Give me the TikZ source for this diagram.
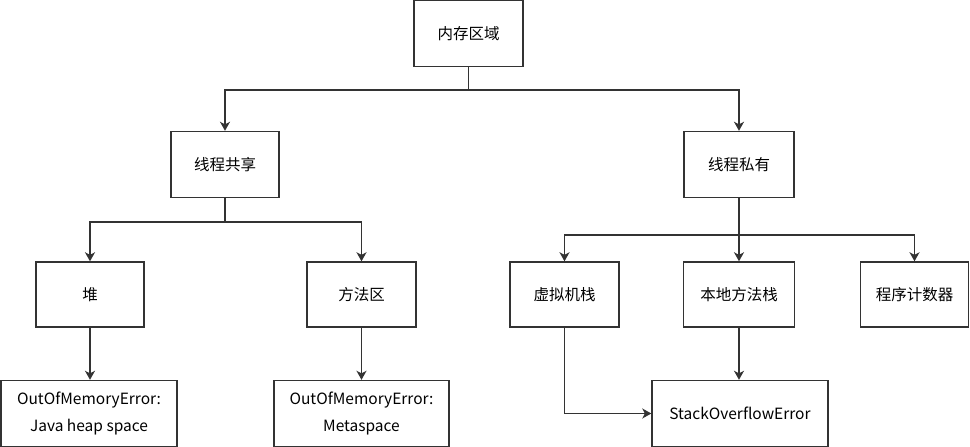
\documentclass[tikz,border=0pt]{standalone}
\usepackage{fontspec}
\newfontfamily\cjk{Noto Sans CJK SC}
\usetikzlibrary{arrows.meta}
\definecolor{linegray}{HTML}{333333}
\begin{document}
\begin{tikzpicture}[x=1pt, y=-1pt,
  box/.style={draw=linegray, line width=1.4pt, fill=white, inner sep=0pt, align=center,
    font=\cjk\fontsize{15.5}{27}\selectfont, text=black},
  arr/.style={draw=linegray, line width=1.5pt, -{Stealth[length=9pt, width=10pt, inset=2.5pt]}}]
\useasboundingbox (0,0) rectangle (970,447);
\node[box, minimum width=109pt, minimum height=66pt] (mem) at (468.5,33.5){内存区域};
\node[box, minimum width=108pt, minimum height=66pt] (shared) at (225,164.5){线程共享};
\node[box, minimum width=110pt, minimum height=66pt] (private) at (739,164.5){线程私有};
\node[box, minimum width=108pt, minimum height=65pt] (heap) at (90,294.5){堆};
\node[box, minimum width=109pt, minimum height=65pt] (method) at (361.5,294.5){方法区};
\node[box, minimum width=109pt, minimum height=65pt] (vmstack) at (564.5,294.5){虚拟机栈};
\node[box, minimum width=111pt, minimum height=65pt] (native) at (739,294.5){本地方法栈};
\node[box, minimum width=108pt, minimum height=65pt] (pc) at (914.5,294.5){程序计数器};
\node[box, minimum width=176pt, minimum height=66pt] (oomheap) at (89,413.5){OutOfMemoryError:\\Java heap space};
\node[box, minimum width=175pt, minimum height=66pt] (oommeta) at (361.5,413.5){OutOfMemoryError:\\Metaspace};
\node[box, minimum width=176pt, minimum height=66pt] (soe) at (740,413.5){StackOverflowError};
\draw[arr](mem.south) -- ++(0,23) -| (shared.north);
\draw[arr](mem.south) -- ++(0,23) -| (private.north);
\draw[arr](shared.south) -- ++(0,24) -| (heap.north);
\draw[arr](shared.south) -- ++(0,24) -| (method.north);
\draw[arr](private.south) -- ++(0,37) -| (vmstack.north);
\draw[arr](private.south) -- (native.north);
\draw[arr](private.south) -- ++(0,37) -| (pc.north);
\draw[arr](heap.south) -- (heap.south |- oomheap.north);
\draw[arr](method.south) -- (oommeta.north);
\draw[arr](native.south) -- (native.south |- soe.north);
\draw[arr](vmstack.south) |- (soe.west);
\end{tikzpicture}
\end{document}
